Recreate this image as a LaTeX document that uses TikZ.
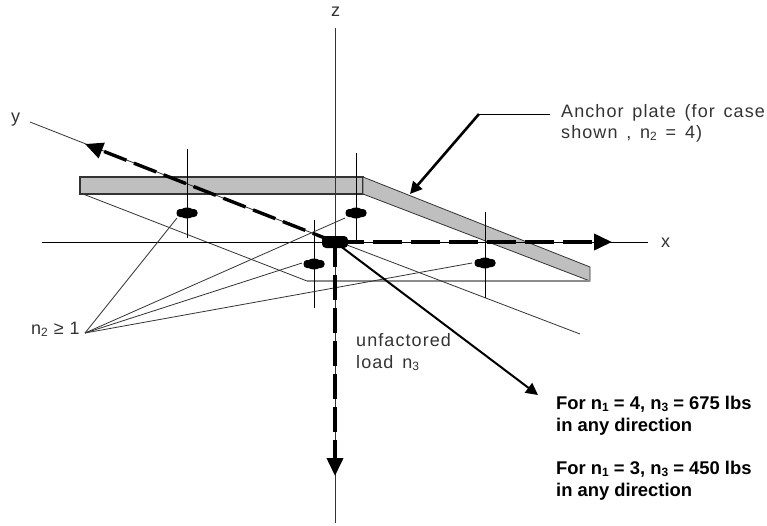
\documentclass[tikz,border=0pt]{standalone}
\usepackage{fontspec}
\setmainfont{Liberation Sans}
\newfontfamily\spacedfont[LetterSpace=6,WordSpace=1.45]{Liberation Sans}
\newfontfamily\tightfont[LetterSpace=5.5]{Liberation Sans}
\usetikzlibrary{arrows.meta,shapes.geometric}
\definecolor{plategrey}{HTML}{BFBFBF}
\definecolor{inkgrey}{HTML}{333333}
\newcommand{\lowsub}[1]{\raisebox{-0.3ex}{\fontsize{12}{12}\selectfont #1}}
\tikzset{
  x=1pt,y=-1pt,
  plate/.style={fill=plategrey,draw=inkgrey,line width=1.1pt,line join=miter},
  thinline/.style={draw=inkgrey,line width=0.8pt},
  axisline/.style={draw=black,line width=1pt},
  greyline/.style={draw=black!45,line width=1.2pt},
  heavy/.style={draw=black,line width=3.8pt,dash pattern=on 29pt off 9pt,-{Triangle[length=18pt,width=16pt]}},
  solidarrow/.style={draw=black,-{Triangle[length=12pt,width=12pt]}},
  anchorblob/.style={rectangle,rounded corners=3.5pt,fill=black,inner sep=0pt,minimum width=21pt,minimum height=8pt},
  anchorhump/.style={ellipse,fill=black,inner sep=0pt,minimum width=15pt,minimum height=11pt},
  label/.style={anchor=base west,inner sep=0pt,text=inkgrey,font=\spacedfont\fontsize{18}{22}\selectfont},
  tightlabel/.style={anchor=base west,inner sep=0pt,text=inkgrey,font=\tightfont\fontsize{18}{22}\selectfont},
  boldlabel/.style={anchor=base west,inner sep=0pt,text=black,font=\bfseries\fontsize{18.4}{22}\selectfont},
}
\begin{document}
\begin{tikzpicture}
\useasboundingbox (0,0) rectangle (767,525);
% key points
\coordinate (o) at (335,242);
\coordinate (zt) at (335,28);
\coordinate (zb) at (335,523);
\coordinate (xl) at (42,242);
\coordinate (xr) at (648,242);
\coordinate (yt) at (30,122);
\coordinate (xtip) at (612,242);
\coordinate (ytip) at (85,144);
\coordinate (ztip) at (335,476);
\coordinate (ltip) at (538,395);
\coordinate (conv) at (85,333);
% plate
\draw[plate] (80,177) rectangle (363,194);
\draw[plate,line width=0.8pt] (363,177) -- (590,267) -- (590,281) -- (363,194) -- cycle;
\draw[thinline] (83,194) -- (307,281);
\draw[greyline] (307,281) -- (590,281);
\draw[thinline] (347,245) -- (580,334);
% axes
\draw[axisline] (xl) -- (xr);
\draw[axisline,draw=inkgrey] (zt) -- (zb);
\draw[thinline] (yt) -- (o);
% anchors
\node[anchorblob] (a1) at (187,213) {};
\node[anchorhump] (h1) at (187,213) {};
\node[anchorblob] (a2) at (356,213) {};
\node[anchorhump] (h2) at (356,213) {};
\node[anchorblob] (a3) at (314,264) {};
\node[anchorhump] (h3) at (314,264) {};
\node[anchorblob] (a4) at (485,263) {};
\node[anchorhump] (h4) at (485,263) {};
\draw[axisline] (187,149) -- (187,238);
\draw[axisline] (356,153) -- (356,242);
\draw[axisline] (314,220) -- (314,308);
\draw[axisline] (485,212) -- (485,298);
% leaders
\draw[thinline] (conv) -- (177,218);
\draw[thinline] (conv) -- (345,218);
\draw[thinline] (conv) -- (302,263);
\draw[thinline] (conv) -- (472,263);
% load arrows
\node[rectangle,rounded corners=4pt,fill=black,inner sep=0pt,minimum width=26pt,minimum height=12pt] (ob) at (o) {};
\draw[heavy] (o) -- (xtip);
\draw[heavy,line width=3.4pt,dash pattern=on 24pt off 8pt] (o) -- (ytip);
\draw[heavy,dash pattern=on 25pt off 8pt] (o) -- (ztip);
\draw[solidarrow,line width=2pt] (o) -- (ltip);
% plate pointer
\coordinate (pl) at (550,114);
\coordinate (pk) at (479,114);
\coordinate (pt) at (410,194);
\draw[thinline,draw=black] (pl) -- (pk);
\draw[solidarrow,line width=2.6pt] (pk) -- (pt);
% labels
\node[label] (lz) at (331,16) {z};
\node[label] (ly) at (11,122) {y};
\node[label] (lx) at (661,247) {x};
\node[label] (lp1) at (561,117) {Anchor plate (for case};
\node[label] (lp2) at (561,138) {shown , n\lowsub{2} = 4)};
\node[label] (lu1) at (356,346) {unfactored};
\node[label] (lu2) at (356,368) {load n\lowsub{3}};
\node[tightlabel] (ln) at (31,334) {n\lowsub{2} ≥ 1};
\node[boldlabel] (b1) at (556,409) {For n\lowsub{1} = 4, n\lowsub{3} = 675 lbs};
\node[boldlabel] (b2) at (556,431) {in any direction};
\node[boldlabel] (b3) at (556,474) {For n\lowsub{1} = 3, n\lowsub{3} = 450 lbs};
\node[boldlabel] (b4) at (556,496) {in any direction};
\end{tikzpicture}
\end{document}
